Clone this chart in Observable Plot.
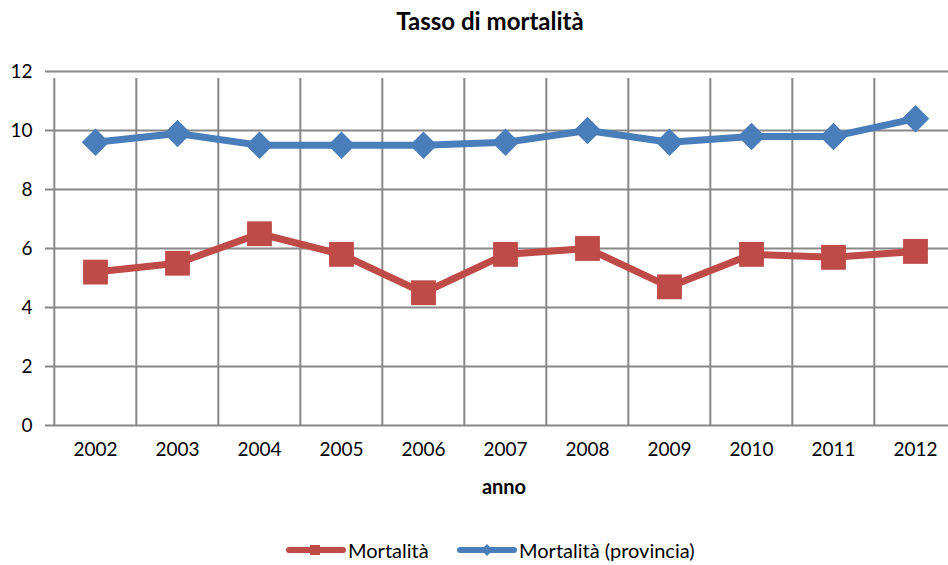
<!DOCTYPE html>
<html><head><meta charset="utf-8">
<script src="https://cdn.jsdelivr.net/npm/d3@7"></script>
<script src="https://cdn.jsdelivr.net/npm/@observablehq/plot@0.6"></script>
<style>
body{margin:0;width:948px;height:565px;overflow:hidden;background:#fff;font-family:Lato,"Open Sans",sans-serif;position:relative;color:#000}
#title{position:absolute;left:0;width:980px;top:6px;text-align:center;font-weight:bold;font-size:24px;line-height:30px}
#chart{position:absolute;left:0;top:0}
#xlabel{position:absolute;left:0;width:1008px;top:474px;text-align:center;font-weight:bold;font-size:20px;line-height:24px}
.leg{position:absolute;top:538px;height:24px;display:flex;align-items:center;font-size:20px}
.leg svg{display:block;margin-right:2px}
</style></head><body>
<div id="title"></div>
<div id="chart"></div>
<div id="xlabel"></div>
<div class="leg" id="leg1" style="left:286px"></div>
<div class="leg" id="leg2" style="left:457px"></div>
<script>
const title = "Tasso di mortalità";
const xTitle = "anno";
const years = ["2002","2003","2004","2005","2006","2007","2008","2009","2010","2011","2012"];
const seriesNames = ["Mortalità", "Mortalità (provincia)"];
const mortalita = [5.2, 5.5, 6.5, 5.8, 4.5, 5.8, 6.0, 4.7, 5.8, 5.7, 5.9];
const mortalitaProvincia = [9.6, 9.9, 9.5, 9.5, 9.5, 9.6, 10.0, 9.6, 9.8, 9.8, 10.4];
const yTicks = [0, 2, 4, 6, 8, 10, 12];
const colors = ["#BE4B48", "#4A7EBB"];

const data = [];
years.forEach((y, i) => {
  data.push({year: y, value: mortalita[i], series: seriesNames[0]});
  data.push({year: y, value: mortalitaProvincia[i], series: seriesNames[1]});
});

const squareSym = {draw(ctx, size) { const h = Math.sqrt(size) / 2; ctx.moveTo(-h, -h); ctx.lineTo(h, -h); ctx.lineTo(h, h); ctx.lineTo(-h, h); ctx.closePath(); }};
const diamondSym = {draw(ctx, size) { const h = Math.sqrt(size) / 2; ctx.moveTo(0, -h); ctx.lineTo(h, 0); ctx.lineTo(0, h); ctx.lineTo(-h, 0); ctx.closePath(); }};

const xRange = [52, 958];
const bw = (xRange[1] - xRange[0]) / years.length;
const grid = "#888888";

const chart = Plot.plot({
  width: 948, height: 500,
  marginLeft: 52, marginRight: 0, marginTop: 71, marginBottom: 75,
  style: {fontFamily: "Lato, 'Open Sans', sans-serif", fontSize: "19px", color: "#000", background: "transparent"},
  x: {type: "band", domain: years, range: xRange, padding: 0, label: null},
  y: {domain: [0, 12], ticks: yTicks, label: null},
  marks: [
    Plot.ruleY(yTicks, {stroke: grid, strokeWidth: 2, insetLeft: -7}),
    Plot.ruleX(years, {x: d => d, y1: 0, y2: 12, dx: -bw / 2, stroke: grid, strokeWidth: 2, insetBottom: -7}),
    Plot.axisY({ticks: yTicks, tickSize: 0, tickPadding: 20, label: null, fontSize: 19}),
    Plot.axisX({tickSize: 0, tickPadding: 17, label: null, fontSize: 19}),
    Plot.line(data.filter(d => d.series === seriesNames[1]), {x: "year", y: "value", stroke: colors[1], strokeWidth: 7, strokeLinejoin: "round"}),
    Plot.line(data.filter(d => d.series === seriesNames[0]), {x: "year", y: "value", stroke: colors[0], strokeWidth: 7, strokeLinejoin: "round"}),
    Plot.dot(data.filter(d => d.series === seriesNames[1]), {x: "year", y: "value", symbol: diamondSym, r: 15.5, fill: colors[1], stroke: null}),
    Plot.dot(data.filter(d => d.series === seriesNames[0]), {x: "year", y: "value", symbol: squareSym, r: 14, fill: colors[0], stroke: null})
  ]
});
document.getElementById("chart").appendChild(chart);
document.getElementById("title").textContent = title;
document.getElementById("xlabel").textContent = xTitle;

function legendItem(id, color, kind, name) {
  const el = d3.select("#" + id);
  const svg = el.append("svg").attr("width", 60).attr("height", 24);
  svg.append("line").attr("x1", 3).attr("x2", 57).attr("y1", 12).attr("y2", 12)
    .attr("stroke", color).attr("stroke-width", 6).attr("stroke-linecap", "round");
  if (kind === "square") svg.append("rect").attr("x", 24).attr("y", 7).attr("width", 10).attr("height", 10).attr("fill", color);
  else svg.append("path").attr("d", "M30,6L36,12L30,18L24,12Z").attr("fill", color);
  el.append("span").text(name);
}
legendItem("leg1", colors[0], "square", seriesNames[0]);
legendItem("leg2", colors[1], "diamond", seriesNames[1]);
</script>
</body></html>
